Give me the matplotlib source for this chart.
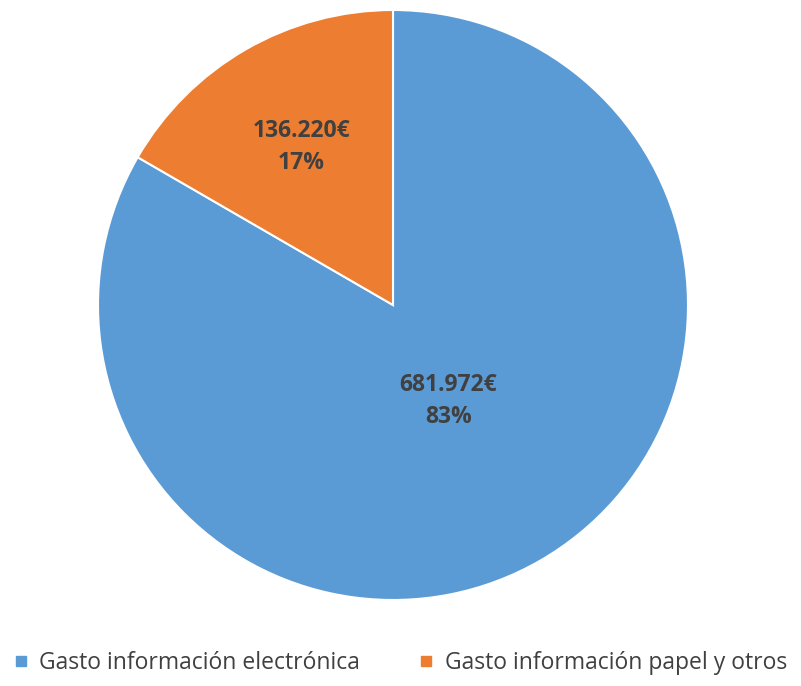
import numpy as np
import matplotlib.pyplot as plt
from matplotlib.lines import Line2D

categories = ['Gasto información electrónica', 'Gasto información papel y otros']
values = [681972, 136220]
value_labels = ['681.972€', '136.220€']
colors = ['#5B9BD5', '#ED7D31']

plt.rcParams['font.family'] = ['Open Sans', 'DejaVu Sans']

fig = plt.figure(figsize=(8.01, 6.86), dpi=100)
ax = fig.add_axes([98 / 801, 86 / 686, 590 / 801, 590 / 686])

wedges, _ = ax.pie(values, colors=colors, startangle=90, counterclock=False,
                   radius=1, wedgeprops=dict(edgecolor='white', linewidth=1.5))
ax.set_xlim(-1, 1)
ax.set_ylim(-1, 1)
ax.set_aspect('equal')
ax.axis('off')

total = sum(values)
label_r = [0.376, 0.62]
for w, v, lab, r in zip(wedges, values, value_labels, label_r):
    mid = np.deg2rad((w.theta1 + w.theta2) / 2)
    pct = round(100 * v / total)
    ax.text(r * np.cos(mid), r * np.sin(mid), f'{lab}\n{pct}%', ha='center', va='center',
            fontsize=16.5, fontweight='bold', color='#404040', linespacing=1.45)

handles = [Line2D([], [], marker='s', linestyle='', markersize=7, color=c) for c in colors]
fig.legend(handles, categories, loc='center', bbox_to_anchor=(0.5, 1 - 663 / 686), ncol=2,
           frameon=False, fontsize=16.5, handlelength=0.6, handletextpad=0.5,
           columnspacing=2.6, labelcolor='#404040', borderaxespad=0, borderpad=0)

fig.savefig('out.png', dpi=100)
